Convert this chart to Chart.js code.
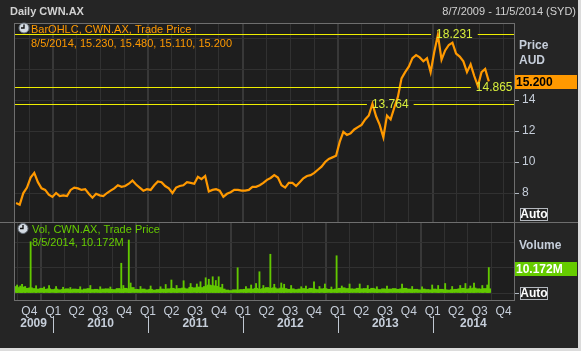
<!DOCTYPE html>
<html>
<head>
<meta charset="utf-8">
<script src="https://cdn.jsdelivr.net/npm/chart.js@4.4.0/dist/chart.umd.min.js"></script>
<style>
  html, body { margin: 0; padding: 0; background: #dcdcdc; }
  #wrap { position: relative; width: 578px; height: 348px; background: #252525; overflow: hidden; }
  #price { position: absolute; left: 0; top: 0; }
  #vol { position: absolute; left: 0; top: 222px; }
</style>
</head>
<body>
<div id="wrap">
  <canvas id="price" width="581" height="222"></canvas>
  <canvas id="vol" width="581" height="129"></canvas>
</div>
<script>
// one value every 14 days, from 11 Aug 2009 to 5 Aug 2014
var seriesStart = '2009-08-11', stepDays = 14;
var priceValues = [7.35,7.25,8.0,8.35,9.0,9.3,8.7,8.3,8.2,7.9,
  7.75,8.0,7.8,7.85,7.8,8.2,8.35,8.3,8.2,8.25,
  7.95,7.7,7.95,7.85,7.8,8.0,8.15,8.3,8.5,8.4,
  8.45,8.6,8.8,8.55,8.35,8.15,8.25,8.2,8.5,8.75,
  8.7,8.45,8.3,8.0,8.35,8.45,8.5,8.7,8.65,8.6,
  9.05,8.9,9.1,8.1,8.2,8.25,8.15,7.75,7.95,8.05,
  8.2,8.2,8.15,8.15,8.2,8.4,8.4,8.5,8.65,8.85,
  8.97,9.15,9.0,8.5,8.35,8.65,8.65,8.45,8.7,8.95,
  9.1,9.15,9.3,9.5,9.7,10.0,10.2,10.3,10.4,11.3,
  11.95,11.75,11.85,12.1,12.25,12.4,12.75,13.0,13.76,12.95,
  12.4,11.6,13.0,12.75,13.5,14.2,15.4,15.8,16.15,16.7,
  16.9,16.75,16.5,16.7,15.8,17.1,18.2,16.6,17.2,17.55,
  17.7,17.0,16.8,16.5,15.8,16.3,15.55,14.9,15.8,16.0,
  15.2];
// volume in millions
var volumeBase = [2.6,2.2,2.4,1.9,2.1,1.8,1.6,1.9,1.5,1.7,
  1.4,1.6,1.3,1.5,1.7,1.4,1.6,1.5,1.3,1.6,
  1.8,1.4,1.5,1.3,1.6,1.7,1.5,1.4,1.8,1.6,
  1.9,1.7,2.2,1.5,1.4,1.6,1.3,1.5,1.2,1.4,
  1.6,1.5,1.7,1.9,1.6,1.8,2.0,1.7,2.3,2.1,
  2.4,2.2,2.6,3.2,3.0,2.7,2.2,1.6,1.2,1.0,
  1.3,1.2,1.4,1.5,1.7,1.6,1.9,1.5,1.8,2.2,
  1.9,2.1,1.7,2.0,1.8,1.5,1.7,1.4,1.6,1.8,
  1.5,1.9,1.6,1.4,1.7,1.8,1.5,1.4,1.6,1.9,
  2.1,1.8,1.7,1.6,1.9,1.7,1.8,1.5,1.9,1.6,
  1.4,1.7,1.5,1.6,1.8,1.5,1.7,1.9,1.6,1.4,
  1.5,1.3,1.6,1.4,1.3,1.6,1.4,1.5,1.3,1.2,
  1.4,1.5,1.7,1.9,1.6,1.8,2.0,1.7,1.6,1.8,
  1.7];
var spikeDates = ['2009-08-15','2009-08-27','2009-09-03','2009-09-15','2009-10-06','2009-10-27','2009-11-27','2009-12-16',
  '2010-01-12','2010-02-08','2010-03-08','2010-04-15','2010-05-24','2010-07-01','2010-08-09','2010-09-20','2010-09-28',
  '2010-10-19','2010-10-26','2010-12-03','2011-01-11','2011-02-18','2011-03-10','2011-04-01','2011-04-21','2011-05-18',
  '2011-06-14','2011-07-08','2011-07-22','2011-08-11','2011-08-23','2011-09-07','2011-09-19','2011-09-30','2011-10-14',
  '2011-12-12','2012-01-13','2012-02-02','2012-02-21','2012-03-05','2012-03-20','2012-04-16','2012-05-01','2012-05-28',
  '2012-06-08','2012-07-05','2012-08-13','2012-08-31','2012-10-01','2012-10-22','2012-11-12','2012-12-07','2012-12-27',
  '2013-01-16','2013-02-15','2013-03-26','2013-04-26','2013-05-31','2013-07-09','2013-09-05','2013-10-14','2013-11-21',
  '2013-12-30','2014-01-22','2014-02-18','2014-03-17','2014-04-17','2014-05-07','2014-05-26','2014-06-09','2014-07-11',
  '2014-07-30','2014-08-05'];
var spikeValues = [3.2,2.8,3.5,2.6,20.5,2.9,2.4,3.0,
  2.6,2.3,2.2,2.5,3.0,2.5,2.4,11.9,3.0,
  21.2,4.0,2.6,2.8,2.5,3.4,5.2,3.0,4.9,
  3.8,3.6,4.5,6.1,5.5,6.5,5.0,6.5,3.5,
  10.1,2.6,3.2,3.8,8.5,3.0,15.5,3.5,4.0,
  3.5,3.0,2.5,2.8,4.5,2.6,3.6,2.4,14.9,
  2.8,3.6,3.6,3.0,2.5,2.8,3.6,2.6,2.5,
  3.2,3.0,3.8,2.6,3.0,3.8,2.8,4.0,3.0,
  3.2,10.172];
var priceTicks = [8, 10, 12, 14, 16, 18], priceLabelled = [8, 10, 12, 14];
var volumeTicks = [0, 10, 20];
var yearLabels = ['2009', '2010', '2011', '2012', '2013', '2014'];
var markerValues = [18.231, 14.865, 13.764];
var markerDates = ['2014-01-14', '2014-06-16', '2013-05-12'];
var lastPrice = '15.200', lastVolume = '10.172M';

var DAY = 86400000;
var xMin = Date.UTC(2009, 7, 3), xMax = Date.UTC(2014, 10, 10);
var FONT = '"Liberation Sans", Arial, sans-serif';
var GRID = '#313131', BORDER = '#6e6e6e', AXIS_TXT = '#c6ceda', PLOT_BG = '#1e1e1e';
Chart.defaults.font.family = FONT;
Chart.defaults.animation = false;

var t0 = Date.parse(seriesStart);
function dateOf(i) { return t0 + i * stepDays * DAY; }

function quarterTicks(scale) {
    var t = [];
    for (var y = 2009; y <= 2014; y++) {
        for (var q = 0; q < 4; q++) {
            var v = Date.UTC(y, q * 3, 1);
            if (v > xMin && v < xMax) t.push({value: v});
        }
    }
    scale.ticks = t;
}
function gridColor(ctx) {
    if (!ctx.tick) return GRID;
    return new Date(ctx.tick.value).getUTCMonth() == 0 ? '#383838' : GRID;
}
function gridWidth(ctx) {
    if (!ctx.tick) return 1;
    return new Date(ctx.tick.value).getUTCMonth() == 0 ? 2 : 1;
}
// keep the plot area exactly where the layout padding puts it
function noPad(s) {
    s.paddingTop = 0;
    s.paddingBottom = 0;
    s.paddingLeft = 0;
    s.paddingRight = 0;
}

function txt(ctx, s, x, y, font, color, align) {
    ctx.font = font;
    ctx.fillStyle = color;
    ctx.textAlign = align || 'left';
    ctx.textBaseline = 'middle';
    ctx.fillText(s, x, y);
}
function clock(ctx, x, y) {
    ctx.save();
    ctx.beginPath();
    ctx.arc(x, y, 5, 0, Math.PI * 2);
    ctx.fillStyle = '#d4dbe3';
    ctx.fill();
    ctx.strokeStyle = '#69727c';
    ctx.lineWidth = 1;
    ctx.stroke();
    ctx.beginPath();
    ctx.moveTo(x, y - 3.5);
    ctx.lineTo(x, y);
    ctx.lineTo(x - 3, y);
    ctx.strokeStyle = '#111';
    ctx.lineWidth = 1.4;
    ctx.stroke();
    ctx.restore();
}
function autoBox(ctx, x, y) {
    ctx.strokeStyle = '#b4b8be';
    ctx.lineWidth = 1;
    ctx.strokeRect(x + 0.5, y + 0.5, 27, 12);
    txt(ctx, 'Auto', x + 14, y + 7, 'bold 12px ' + FONT, '#ffffff', 'center');
}
function hline(ctx, x1, x2, y, color) {
    ctx.beginPath();
    ctx.moveTo(x1, y);
    ctx.lineTo(x2, y);
    ctx.strokeStyle = color;
    ctx.lineWidth = 1;
    ctx.stroke();
}
function vline(ctx, x, y1, y2, color) {
    ctx.beginPath();
    ctx.moveTo(x, y1);
    ctx.lineTo(x, y2);
    ctx.strokeStyle = color;
    ctx.lineWidth = 1;
    ctx.stroke();
}

var plotBg = {
    id: 'plotBg',
    beforeDraw: function(chart) {
        var a = chart.chartArea, ctx = chart.ctx;
        ctx.save();
        ctx.fillStyle = PLOT_BG;
        ctx.fillRect(a.left, a.top, a.right - a.left, a.bottom - a.top);
        ctx.restore();
    }
};

var priceDecor = {
    id: 'priceDecor',
    afterDatasetsDraw: function(chart) {
        var ctx = chart.ctx, a = chart.chartArea, xs = chart.scales.x, ys = chart.scales.y;
        ctx.save();
        ctx.font = '12px ' + FONT;
        for (var i = 0; i < markerValues.length; i++) {
            var y = Math.round(ys.getPixelForValue(markerValues[i])) + 0.5;
            var lx = xs.getPixelForValue(Date.parse(markerDates[i]));
            var label = markerValues[i].toFixed(3);
            var w = ctx.measureText(label).width;
            hline(ctx, a.left, lx - 5, y, '#eeee00');
            if (lx + w + 5 < a.right) hline(ctx, lx + w + 5, a.right, y, '#eeee00');
            txt(ctx, label, lx, y, '12px ' + FONT, '#d8ee3c', 'left');
        }
        ctx.restore();
    },
    afterDraw: function(chart) {
        var ctx = chart.ctx, a = chart.chartArea;
        ctx.save();
        vline(ctx, a.left + 0.5, a.top, a.bottom, BORDER);
        hline(ctx, a.left, a.right, a.top + 0.5, BORDER);
        txt(ctx, 'Daily CWN.AX', 10, 12, 'bold 11px ' + FONT, '#d2d2d2');
        txt(ctx, '8/7/2009 - 11/5/2014 (SYD)', 576, 12, '11px ' + FONT, '#d2d2d2', 'right');
        clock(ctx, 24, 28);
        txt(ctx, 'BarOHLC, CWN.AX, Trade Price', 31, 30, '11px ' + FONT, '#ff9a00');
        txt(ctx, '8/5/2014, 15.230, 15.480, 15.110, 15.200', 31, 44, '11px ' + FONT, '#ff9a00');
        txt(ctx, 'Price', 519, 46, 'bold 12px ' + FONT, AXIS_TXT);
        txt(ctx, 'AUD', 519, 61, 'bold 12px ' + FONT, AXIS_TXT);
        ctx.fillStyle = '#ff9900';
        ctx.fillRect(515, 75, 62, 14);
        txt(ctx, lastPrice, 516, 82.5, 'bold 12px ' + FONT, '#000000');
        autoBox(ctx, 520, 208);
        ctx.restore();
    }
};

var volDecor = {
    id: 'volDecor',
    afterDraw: function(chart) {
        var ctx = chart.ctx, a = chart.chartArea, xs = chart.scales.x;
        ctx.save();
        hline(ctx, 0, 581, 0.5, BORDER);
        vline(ctx, a.left + 0.5, a.top, a.bottom, BORDER);
        clock(ctx, 23, 6.5);
        txt(ctx, 'Vol, CWN.AX, Trade Price', 32, 7.5, '11px ' + FONT, '#66cc00');
        txt(ctx, '8/5/2014, 10.172M', 32, 21, '11px ' + FONT, '#66cc00');
        txt(ctx, 'Volume', 519, 24, 'bold 12px ' + FONT, AXIS_TXT);
        ctx.fillStyle = '#66cc00';
        ctx.fillRect(515, 40, 62, 14);
        txt(ctx, lastVolume, 516, 47.5, 'bold 12px ' + FONT, '#ffffff');
        autoBox(ctx, 520, 65);
        for (var i = 0; i < yearLabels.length; i++) {
            var yr = parseInt(yearLabels[i], 10);
            var s = Math.max(xMin, Date.UTC(yr, 0, 1)), e = Math.min(xMax, Date.UTC(yr + 1, 0, 1));
            var cx = (xs.getPixelForValue(s) + xs.getPixelForValue(e)) / 2;
            txt(ctx, yearLabels[i], cx, 102, 'bold 12px ' + FONT, AXIS_TXT, 'center');
            if (i > 0) {
                var px = Math.round(xs.getPixelForValue(Date.UTC(yr, 0, 1))) + 0.5;
                vline(ctx, px, 94, 111, '#c0c8d2');
            }
        }
        ctx.restore();
    }
};

var priceChart = new Chart(document.getElementById('price').getContext('2d'), {
    type: 'line',
    data: {
        datasets: [{
            label: 'BarOHLC',
            data: priceValues.map(function(v, i) { return {x: dateOf(i), y: v}; }),
            borderColor: '#ff9900',
            borderWidth: 2.2,
            pointRadius: 0,
            tension: 0
        }]
    },
    options: {
        responsive: false,
        layout: {padding: {left: 14, top: 23, right: 0, bottom: 0}},
        plugins: {legend: {display: false}, tooltip: {enabled: false}},
        scales: {
            x: {
                type: 'linear', min: xMin, max: xMax,
                afterBuildTicks: quarterTicks,
                afterFit: function(s) { s.height = 0; noPad(s); },
                ticks: {display: false},
                grid: {color: gridColor, lineWidth: gridWidth, drawTicks: false},
                border: {display: false}
            },
            y: {
                position: 'right', min: 6.13, max: 18.97,
                afterBuildTicks: function(s) { s.ticks = priceTicks.map(function(v) { return {value: v}; }); },
                afterFit: function(s) { s.width = 67; noPad(s); },
                ticks: {
                    color: AXIS_TXT, font: {size: 12}, padding: 3,
                    callback: function(v) { return priceLabelled.indexOf(v) >= 0 ? String(v) : ''; }
                },
                grid: {
                    color: GRID, tickLength: 5,
                    tickColor: function(ctx) { return ctx.tick && priceLabelled.indexOf(ctx.tick.value) >= 0 ? '#b0b8c2' : 'rgba(0,0,0,0)'; }
                },
                border: {display: true, color: BORDER}
            }
        }
    },
    plugins: [plotBg, priceDecor]
});

var volChart = new Chart(document.getElementById('vol').getContext('2d'), {
    type: 'bar',
    data: {
        datasets: [{
            label: 'Vol',
            data: volumeBase.map(function(v, i) { return {x: dateOf(i), y: v}; }),
            backgroundColor: '#62c800',
            barThickness: 3.7,
            grouped: false
        }, {
            label: 'Vol spikes',
            data: spikeDates.map(function(d, i) { return {x: Date.parse(d), y: spikeValues[i]}; }),
            backgroundColor: '#62c800',
            barThickness: 1.2,
            grouped: false
        }]
    },
    options: {
        responsive: false,
        layout: {padding: {left: 14, top: 0, right: 0, bottom: 0}},
        plugins: {legend: {display: false}, tooltip: {enabled: false}},
        scales: {
            x: {
                type: 'linear', min: xMin, max: xMax, offset: false,
                afterBuildTicks: quarterTicks,
                afterFit: function(s) { s.height = 51; noPad(s); },
                ticks: {
                    color: AXIS_TXT, font: {size: 12}, padding: 4, maxRotation: 0, autoSkip: false,
                    callback: function(v) { return 'Q' + (Math.floor(new Date(v).getUTCMonth() / 3) + 1); }
                },
                grid: {color: gridColor, lineWidth: gridWidth, drawTicks: false},
                border: {display: true, color: BORDER}
            },
            y: {
                position: 'right', min: -2.8, max: 28.4,
                afterBuildTicks: function(s) { s.ticks = volumeTicks.map(function(v) { return {value: v}; }); },
                afterFit: function(s) { s.width = 67; noPad(s); },
                ticks: {display: false},
                grid: {
                    color: GRID, tickLength: 5,
                    tickColor: function(ctx) { return ctx.tick && ctx.tick.value === 0 ? '#b0b8c2' : 'rgba(0,0,0,0)'; }
                },
                border: {display: true, color: BORDER}
            }
        }
    },
    plugins: [plotBg, volDecor]
});
</script>
</body>
</html>
